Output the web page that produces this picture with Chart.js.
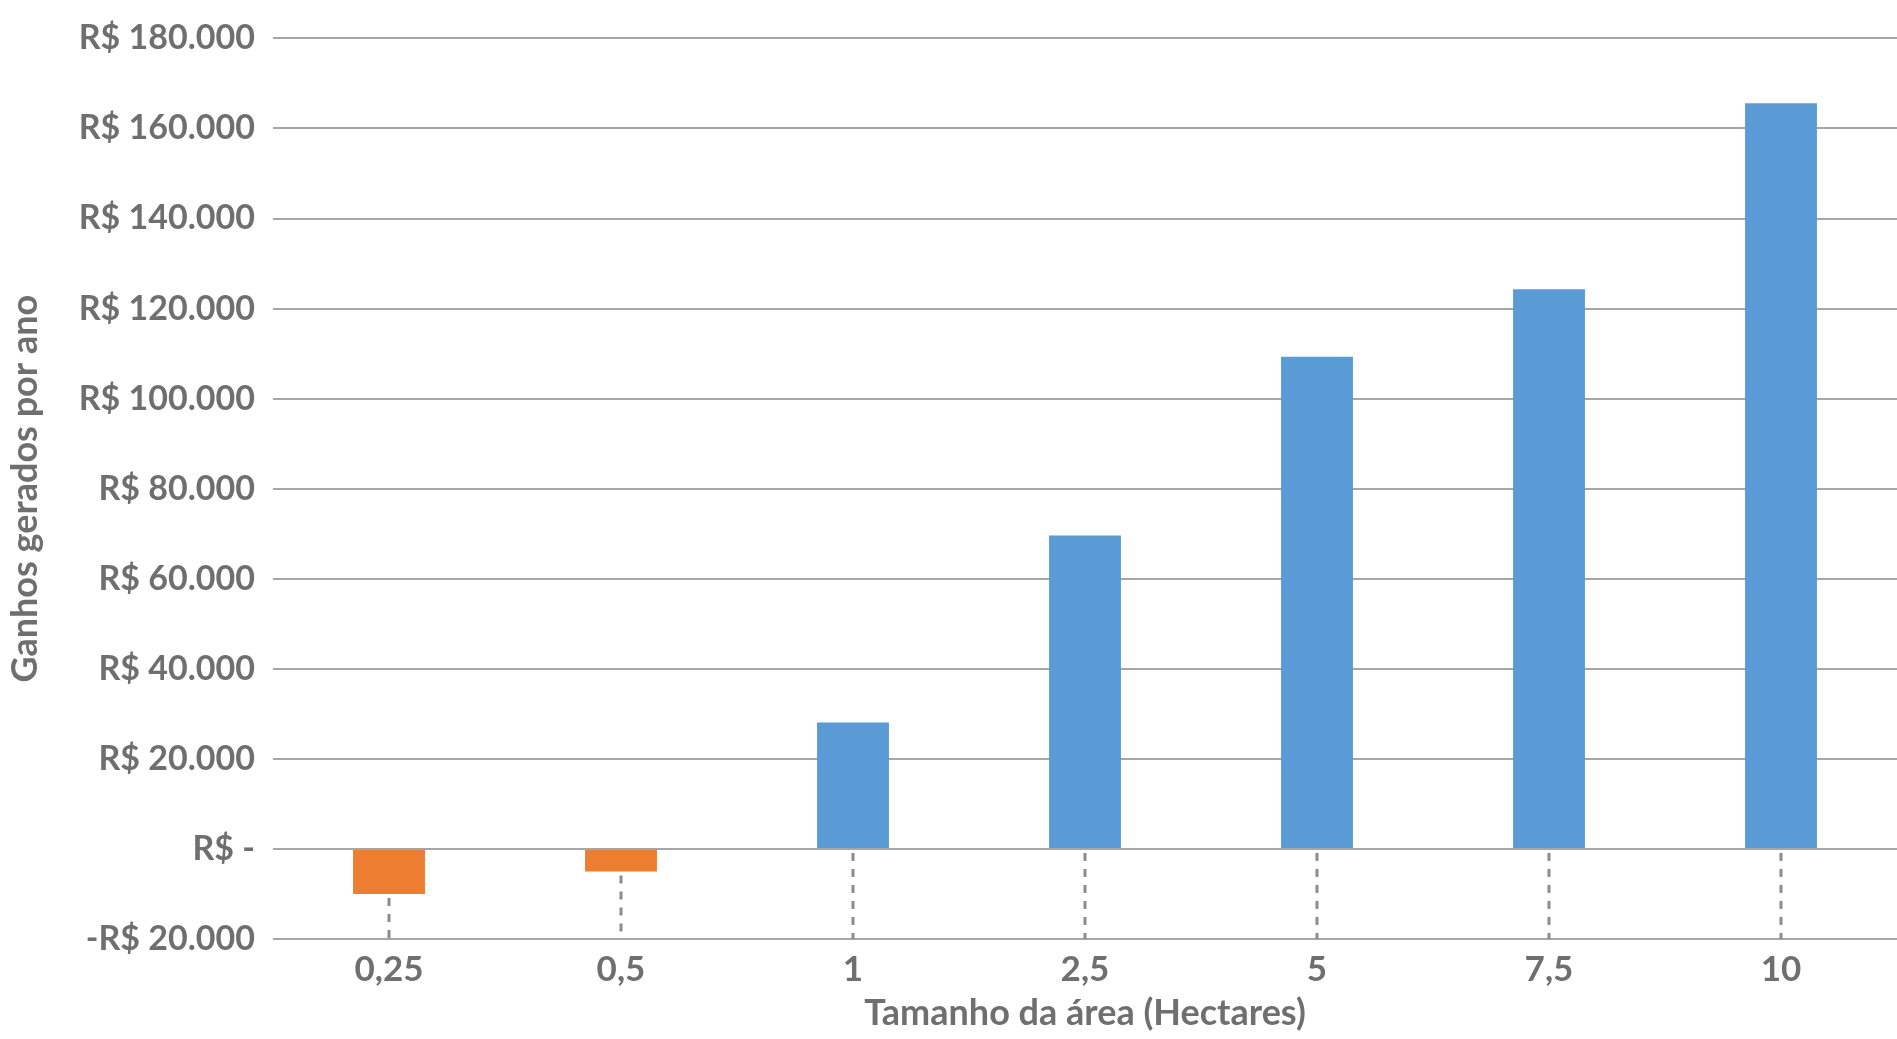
<!DOCTYPE html>
<html>
<head>
<meta charset="utf-8">
<script src="https://cdn.jsdelivr.net/npm/chart.js@4/dist/chart.umd.min.js"></script>
<style>
  html, body { margin: 0; padding: 0; background: #fff; }
</style>
</head>
<body>
<canvas id="chart" width="1897" height="1039"></canvas>
<script>
const categories = ['0,25', '0,5', '1', '2,5', '5', '7,5', '10']
const gains = [-10000, -5000, 28100, 69600, 109300, 124300, 165600]

const gray = '#6f6f6f'
const fontFamily = 'Lato, "Open Sans", sans-serif'

const formatReal = (v) => {
  if (v === 0) return 'R$ -'
  const s = 'R$ ' + Math.abs(v).toLocaleString('pt-BR')
  return v < 0 ? '-' + s : s
}

// dotted drop lines from each bar's base/end down to the bottom axis
const dropLines = {
  id: 'dropLines',
  afterDatasetsDraw(chart) {
    const { ctx, scales: { x, y } } = chart
    ctx.save()
    ctx.strokeStyle = '#8c8c8c'
    ctx.lineWidth = 3
    ctx.setLineDash([8, 8])
    gains.forEach((v, i) => {
      const px = x.getPixelForValue(i)
      const top = y.getPixelForValue(Math.min(v, 0))
      ctx.beginPath()
      ctx.moveTo(px, top + 4)
      ctx.lineTo(px, y.getPixelForValue(-20000))
      ctx.stroke()
    })
    ctx.restore()
  },
}

new Chart(document.getElementById('chart'), {
  type: 'bar',
  data: {
    labels: categories,
    datasets: [
      {
        data: gains,
        backgroundColor: gains.map((v) => (v < 0 ? '#ed7d31' : '#5b9bd5')),
        barPercentage: 0.31,
        categoryPercentage: 1,
      },
    ],
  },
  options: {
    responsive: false,
    animation: false,
    layout: { padding: { top: 8, right: 0, left: 0, bottom: 0 } },
    plugins: { legend: { display: false }, tooltip: { enabled: false } },
    scales: {
      x: {
        grid: { display: false },
        border: { display: false },
        ticks: { color: gray, font: { family: fontFamily, size: 35, weight: 'bold' }, padding: 2 },
        title: {
          display: true,
          text: 'Tamanho da área (Hectares)',
          color: gray,
          font: { family: fontFamily, size: 36, weight: 'bold' },
          padding: { top: 0 },
        },
        afterFit: (scale) => { scale.height = 100 },
      },
      y: {
        min: -20000,
        max: 180000,
        ticks: {
          stepSize: 20000,
          color: gray,
          font: { family: fontFamily, size: 34, weight: 'bold' },
          padding: 18,
          callback: (v) => formatReal(v),
        },
        grid: { color: '#a6a6a6', lineWidth: 2, drawTicks: false },
        border: { display: false },
        title: {
          display: true,
          text: 'Ganhos gerados por ano',
          color: gray,
          font: { family: fontFamily, size: 36, weight: 'bold' },
          padding: { bottom: 0 },
        },
        afterFit: (scale) => { scale.width = 273 },
      },
    },
  },
  plugins: [dropLines],
})
</script>
</body>
</html>
